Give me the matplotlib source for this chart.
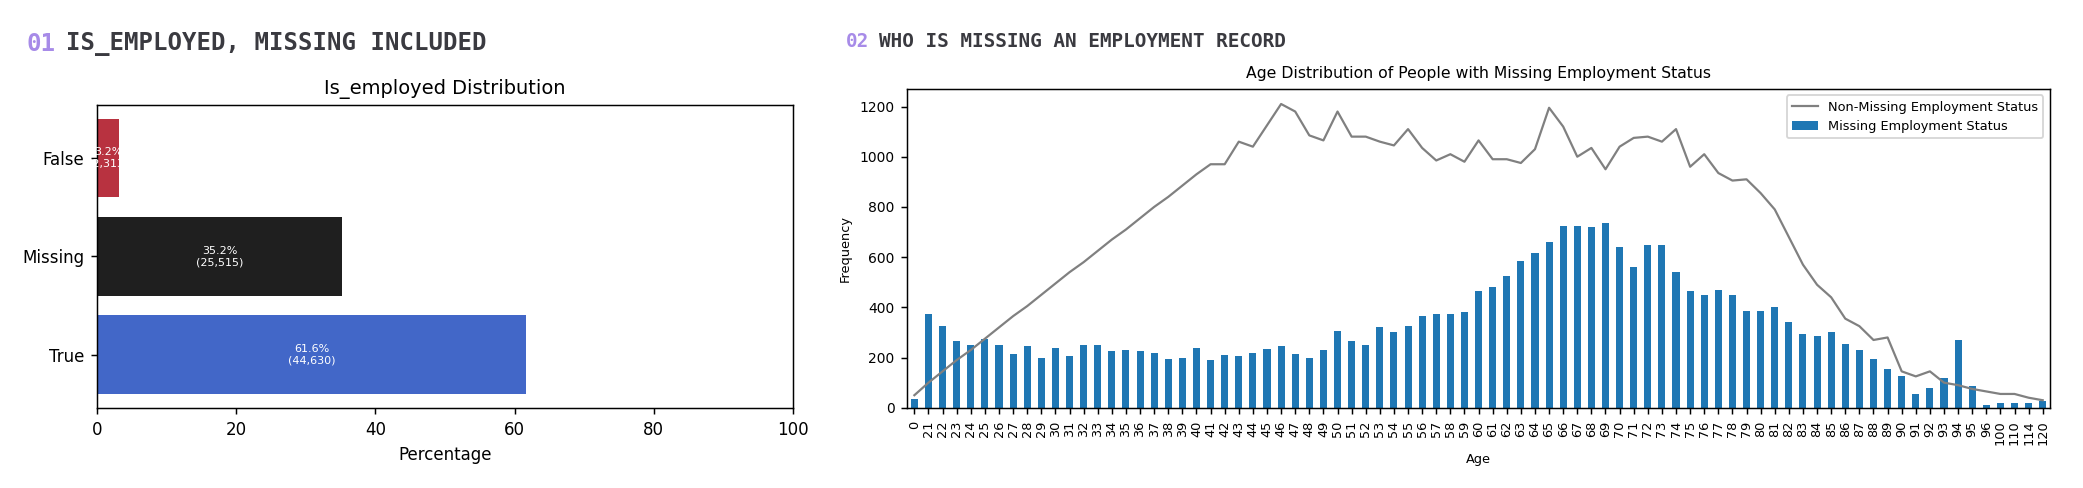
import matplotlib
matplotlib.use("Agg")
import matplotlib.pyplot as plt
import numpy as np

cats = ["True", "Missing", "False"]
pcts = [61.6, 35.2, 3.2]
counts = [44630, 25515, 2313]
bar_colors = ["#4267c8", "#1f1f1f", "#b83240"]

ages = ["0"] + [str(a) for a in range(21, 97)] + ["100", "110", "114", "120"]
missing = [35, 375, 325, 265, 250, 275, 250, 215, 245, 200, 240, 205, 250, 250, 225, 230, 225, 220,
           195, 200, 240, 190, 210, 205, 220, 235, 245, 215, 200, 230, 305, 265, 250, 320, 300, 325,
           365, 375, 375, 380, 465, 480, 525, 585, 615, 660, 725, 725, 720, 735, 640, 560, 650, 650,
           540, 465, 450, 470, 450, 385, 385, 400, 340, 295, 285, 300, 255, 230, 195, 155, 125, 55,
           80, 120, 270, 85, 10, 20, 20, 20, 25]
nonmissing = [50, 100, 145, 190, 230, 275, 320, 365, 405, 450, 495, 540, 580, 625, 670, 710, 755,
              800, 840, 885, 930, 970, 970, 1060, 1040, 1125, 1210, 1180, 1085, 1065, 1180, 1080,
              1080, 1060, 1045, 1110, 1035, 985, 1010, 980, 1065, 990, 990, 975, 1030, 1195, 1120,
              1000, 1035, 950, 1040, 1075, 1080, 1060, 1110, 960, 1010, 935, 905, 910, 855, 790,
              680, 570, 490, 440, 355, 325, 270, 280, 145, 125, 145, 100, 90, 75, 65, 55, 55, 40, 30]

W, H = 1568, 367.4
fig = plt.figure(figsize=(W/100, H/100), dpi=100)

fig.text(20/W, 1-33/H, "01", color="#a78be8", fontsize=13, fontweight="bold",
         family="DejaVu Sans Mono", va="center")
fig.text(50/W, 1-33/H, "IS_EMPLOYED, MISSING INCLUDED",
         color="#3a3a40", fontsize=13, fontweight="bold", family="DejaVu Sans Mono", va="center")
fig.text(637/W, 1-31/H, "02", color="#a78be8", fontsize=10.5, fontweight="bold",
         family="DejaVu Sans Mono", va="center")
fig.text(662/W, 1-31/H, "WHO IS MISSING AN EMPLOYMENT RECORD",
         color="#3a3a40", fontsize=10.5, fontweight="bold", family="DejaVu Sans Mono", va="center")

ax1 = fig.add_axes([73/W, 1-307/H, 524/W, 228/H])
y = np.arange(len(cats))
ax1.barh(y, pcts, color=bar_colors, height=0.8)
for yi, p, c in zip(y, pcts, counts):
    ax1.text(p/2, yi, f"{p}%\n({c:,})", color="white", ha="center", va="center", fontsize=6)
ax1.set_yticks(y)
ax1.set_yticklabels(cats, fontsize=9)
ax1.tick_params(axis="x", labelsize=9)
ax1.set_xlim(0, 100)
ax1.set_xlabel("Percentage", fontsize=9)
ax1.set_title("Is_employed Distribution", fontsize=10.5)

ax2 = fig.add_axes([683/W, 1-307/H, 860/W, 240/H])
x = np.arange(len(ages))
ax2.bar(x, missing, width=0.5, color="#1f77b4", label="Missing Employment Status")
ax2.plot(x, nonmissing, color="gray", linewidth=1.2, label="Non-Missing Employment Status")
ax2.set_xticks(x)
ax2.set_xticklabels(ages, rotation=90, fontsize=7)
ax2.tick_params(axis="y", labelsize=7.5)
ax2.set_xlim(-0.5, len(ages)-0.5)
ax2.set_ylim(0, 1270)
ax2.set_xlabel("Age", fontsize=7)
ax2.set_ylabel("Frequency", fontsize=7)
ax2.set_title("Age Distribution of People with Missing Employment Status", fontsize=8.5)
ax2.legend(loc="upper right", fontsize=7)

fig.savefig("out.png", dpi=100*2083/W)
